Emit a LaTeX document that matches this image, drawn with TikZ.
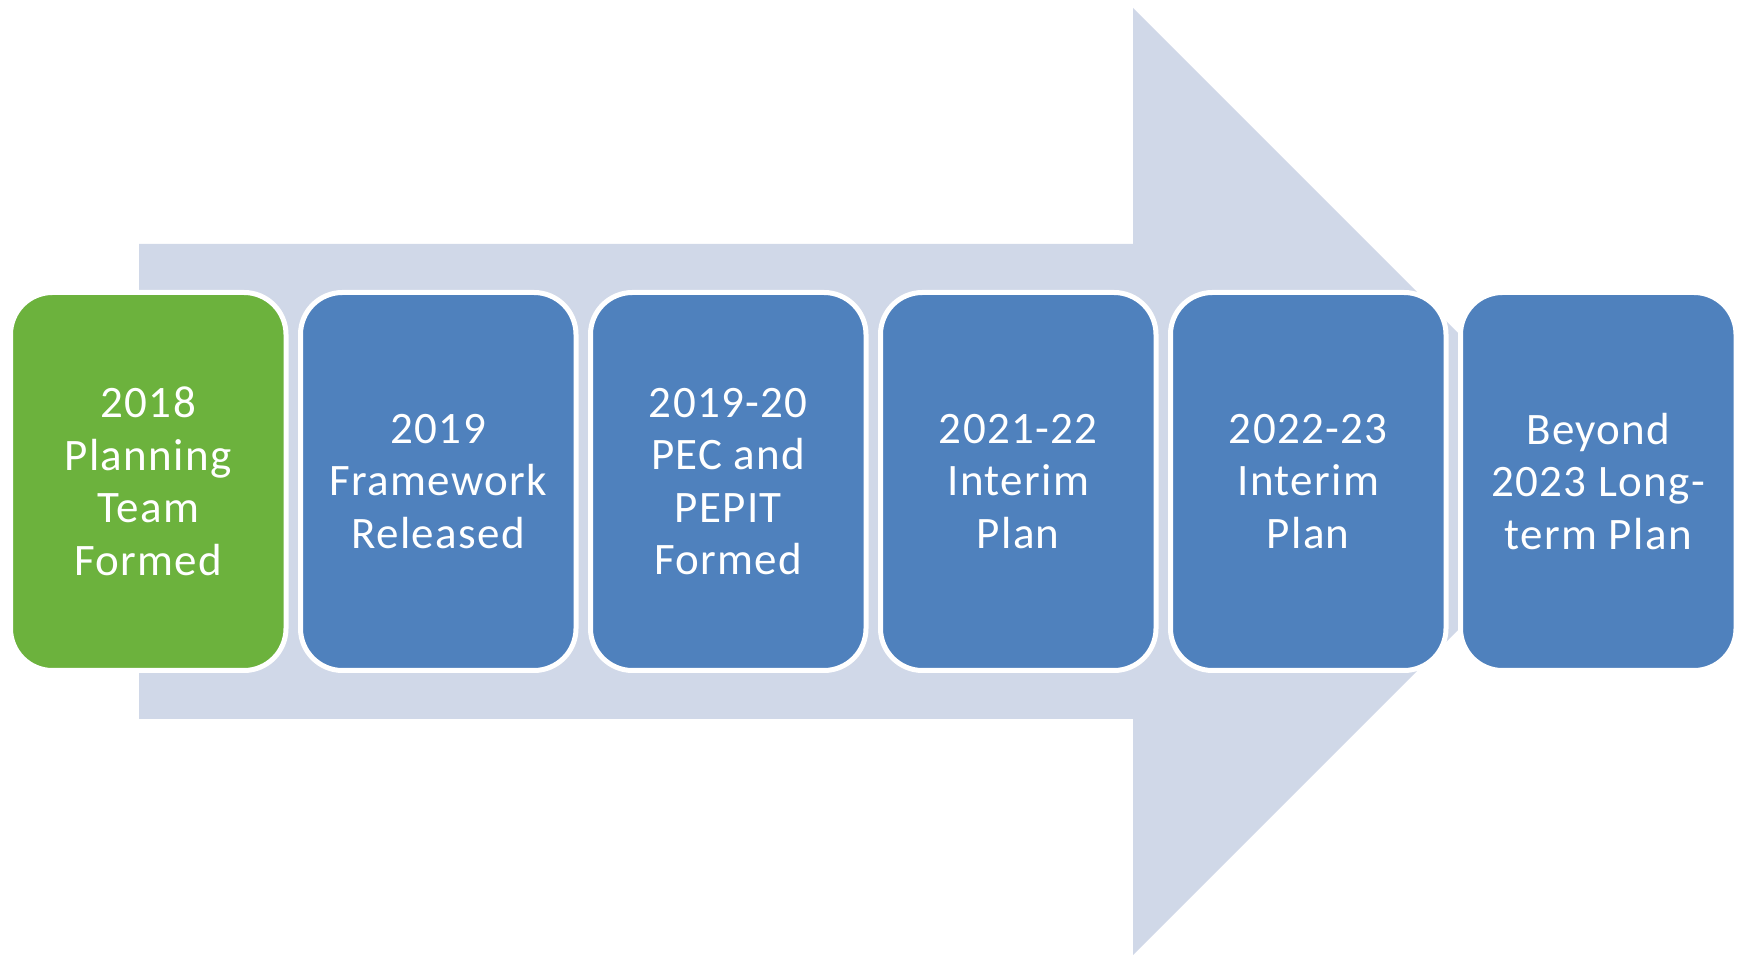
\documentclass[tikz,border=0pt]{standalone}
\usepackage{fontspec}
\setmainfont{Carlito}[LetterSpace=3]
\usetikzlibrary{positioning}
\definecolor{arrowgray}{HTML}{D0D8E8}
\definecolor{boxblue}{HTML}{4F81BD}
\definecolor{boxgreen}{HTML}{6CB23D}

\begin{document}
\begin{tikzpicture}[x=1pt,y=1pt,
  every node/.style={font=\fontsize{45}{52.5}\selectfont},
  phase/.style={draw=white,line width=5pt,rounded corners=42pt,fill=boxblue,text=white,
    minimum width=275.5pt,minimum height=378pt,outer sep=0pt,inner sep=0pt,align=center},
  node distance=14.5pt]

\useasboundingbox (0,0) rectangle (1741,955);

\fill[arrowgray] (139,236)--(1133,236)--(1133,0)--(1606.5,473.5)--(1133,947)--(1133,711)--(139,711)--cycle;

\node[phase,fill=boxgreen] (box1) at (148.25,473.5) {2018\\Planning\\Team\\Formed};
\node[phase,right=of box1] (box2) {2019\\Framework\\Released};
\node[phase,right=of box2] (box3) {2019-20\\PEC and\\PEPIT\\Formed};
\node[phase,right=of box3] (box4) {2021-22\\Interim\\Plan};
\node[phase,right=of box4] (box5) {2022-23\\Interim\\Plan};
\node[phase,right=of box5] (box6) {Beyond\\2023 Long-\\term Plan};

\end{tikzpicture}
\end{document}
